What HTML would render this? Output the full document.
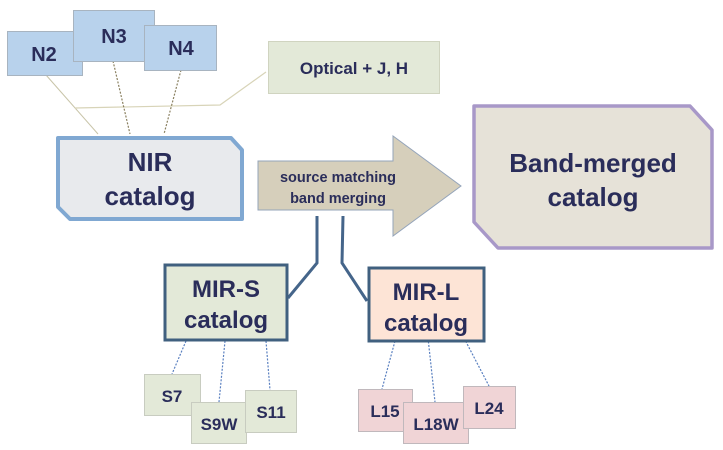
<!DOCTYPE html>
<html><head><meta charset="utf-8"><style>
html,body{margin:0;padding:0;background:#fff;}
svg{display:block;}
text{font-family:"Liberation Sans","DejaVu Sans",sans-serif;font-weight:bold;fill:#2a2d5a;text-anchor:middle;}
</style></head><body>
<svg width="723" height="450" viewBox="0 0 723 450" xmlns="http://www.w3.org/2000/svg">
<!-- connector lines top -->
<line x1="46" y1="75" x2="98" y2="134" stroke="#c8c4a8" stroke-width="1"/>
<polyline points="75,108 220,105 266,72" fill="none" stroke="#d8d4b8" stroke-width="1.2"/>
<line x1="113" y1="61" x2="130" y2="134" stroke="#8a8060" stroke-width="1.2" stroke-dasharray="2,1.5"/>
<line x1="181" y1="70" x2="164" y2="134" stroke="#8a8060" stroke-width="1.2" stroke-dasharray="2,1.5"/>
<!-- N boxes -->
<rect x="7.5" y="31.5" width="75" height="44" fill="#b8d2ec" stroke="#a8b4c0"/>
<text x="44" y="61" font-size="20">N2</text>
<rect x="73.5" y="10.5" width="81" height="51" fill="#b8d2ec" stroke="#a8b4c0"/>
<text x="114" y="43" font-size="20">N3</text>
<rect x="144.5" y="25.5" width="72" height="45" fill="#b8d2ec" stroke="#a8b4c0"/>
<text x="181" y="55" font-size="20">N4</text>
<!-- optical -->
<rect x="268.5" y="41.5" width="171" height="52" fill="#e3e9d8" stroke="#d0d4c0"/>
<text x="354" y="74" font-size="17">Optical + J, H</text>
<!-- NIR -->
<polygon points="58,138 231,138 242,150 242,219 70,219 58,207" fill="#e8eaed" stroke="#80a8d2" stroke-width="4" stroke-linejoin="round"/>
<text x="150" y="171" font-size="26">NIR</text>
<text x="150" y="205" font-size="26">catalog</text>
<!-- arrow -->
<polygon points="258,161 393,161 393,136 461,186 393,236 393,210 258,210" fill="#d6cfbb" stroke="#94a4ba" stroke-width="1"/>
<text x="338" y="182" font-size="14.5">source matching</text>
<text x="338" y="203" font-size="14.5">band merging</text>
<!-- band-merged -->
<polygon points="474,106 690,106 712,130 712,248 498,248 474,222" fill="#e6e2d8" stroke="#a898c8" stroke-width="3.5" stroke-linejoin="round"/>
<text x="593" y="172" font-size="26">Band-merged</text>
<text x="593" y="206" font-size="26">catalog</text>
<!-- MIR connectors -->
<polyline points="317,216 317,263 288,298" fill="none" stroke="#45658a" stroke-width="3"/>
<polyline points="343,216 342,263 367,301" fill="none" stroke="#45658a" stroke-width="3"/>
<!-- dotted lower -->
<g stroke="#5a80c0" stroke-width="1.2" stroke-dasharray="2,1.5">
<line x1="186" y1="341" x2="172" y2="374"/>
<line x1="225" y1="341" x2="219" y2="402"/>
<line x1="266" y1="341" x2="270" y2="390"/>
<line x1="395" y1="341" x2="382" y2="389"/>
<line x1="428" y1="338" x2="435" y2="402"/>
<line x1="464" y1="338" x2="489" y2="386"/>
</g>
<!-- MIR boxes -->
<rect x="165" y="265" width="122" height="75" fill="#e3e9d8" stroke="#40607f" stroke-width="3"/>
<text x="226" y="297" font-size="24">MIR-S</text>
<text x="226" y="328" font-size="24">catalog</text>
<rect x="369" y="268" width="115" height="73" fill="#fde4d6" stroke="#40607f" stroke-width="3"/>
<text x="426" y="300" font-size="24">MIR-L</text>
<text x="426" y="331" font-size="24">catalog</text>
<!-- S boxes -->
<rect x="144.5" y="374.5" width="56" height="41" fill="#e3e9d8" stroke="#c8ccc0"/>
<text x="172" y="402" font-size="17">S7</text>
<rect x="191.5" y="402.5" width="55" height="41" fill="#e3e9d8" stroke="#c8ccc0"/>
<text x="219" y="430" font-size="17">S9W</text>
<rect x="245.5" y="390.5" width="51" height="42" fill="#e3e9d8" stroke="#c8ccc0"/>
<text x="271" y="418" font-size="17">S11</text>
<!-- L boxes -->
<rect x="358.5" y="389.5" width="54" height="42" fill="#f0d4d6" stroke="#c0b8bc"/>
<text x="385" y="417" font-size="17">L15</text>
<rect x="403.5" y="402.5" width="65" height="41" fill="#f0d4d6" stroke="#c0b8bc"/>
<text x="436" y="430" font-size="17">L18W</text>
<rect x="463.5" y="386.5" width="52" height="42" fill="#f0d4d6" stroke="#c0b8bc"/>
<text x="489" y="414" font-size="17">L24</text>
</svg>
</body></html>
